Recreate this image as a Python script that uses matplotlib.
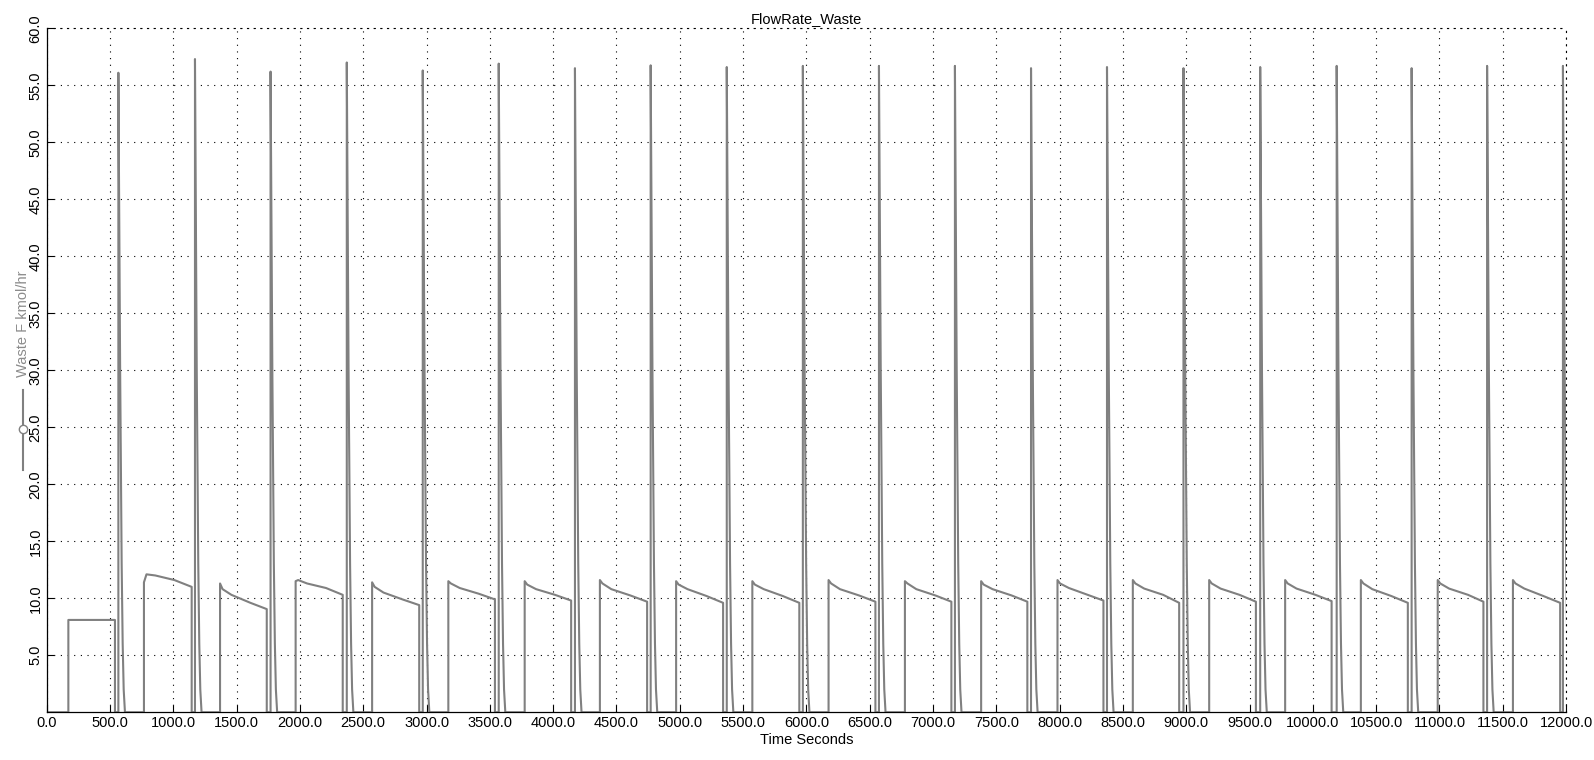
import matplotlib
matplotlib.use("Agg")
import matplotlib.pyplot as plt
from matplotlib.lines import Line2D

plt.rcParams["font.family"] = ["Liberation Sans", "DejaVu Sans"]

# initial feed block
init_t = [171, 539]
init_level = 8.1

# spikes at the start of each waste step
spike_t = [566, 1171, 1768, 2370, 2970, 3570, 4172, 4770, 5371, 5972,
           6573, 7173, 7774, 8374, 8978, 9584, 10188, 10780, 11376, 11975]
spike_peak = [56.1, 57.3, 56.2, 57.0, 56.3, 56.9, 56.5, 56.75, 56.6, 56.7,
              56.7, 56.7, 56.5, 56.6, 56.5, 56.6, 56.7, 56.5, 56.7, 56.7]
tail_dt = [6, 14, 20, 26, 34, 42, 52]
tail_v = [45.0, 30.0, 22.0, 13.0, 6.0, 2.0, 0.0]

# plateau between spikes
plat_rise = [768, 1369, 1966, 2570, 3172, 3775, 4369, 4971, 5573, 6175,
             6778, 7380, 7983, 8578, 9181, 9781, 10379, 10986, 11580]
plat_drop = [1145, 1738, 2338, 2942, 3540, 4142, 4742, 5342, 5944, 6545,
             7145, 7745, 8346, 8944, 9550, 10148, 10750, 11347, 11953]
plat_v0 = [11.4, 11.3, 11.5, 11.4, 11.5, 11.5, 11.6, 11.5, 11.5, 11.6,
           11.5, 11.5, 11.6, 11.6, 11.6, 11.6, 11.6, 11.6, 11.6]
plat_v1 = [12.1, 10.8, 11.6, 11.0, 11.3, 11.2, 11.3, 11.2, 11.2, 11.3,
           11.3, 11.2, 11.3, 11.3, 11.3, 11.3, 11.3, 11.3, 11.3]
plat_v2 = [12.0, 10.3, 11.3, 10.5, 10.9, 10.8, 10.8, 10.8, 10.8, 10.8,
           10.8, 10.8, 10.9, 10.85, 10.85, 10.85, 10.8, 10.85, 10.85]
plat_v3 = [11.6, 9.6, 10.9, 9.9, 10.4, 10.3, 10.25, 10.2, 10.2, 10.25,
           10.25, 10.25, 10.3, 10.3, 10.3, 10.3, 10.2, 10.3, 10.2]
plat_end = [11.0, 9.05, 10.3, 9.4, 9.9, 9.8, 9.7, 9.6, 9.6, 9.7,
            9.7, 9.7, 9.8, 9.6, 9.7, 9.75, 9.6, 9.7, 9.6]

x_ticks = list(range(0, 12001, 500))
y_ticks = list(range(5, 61, 5))

t = [0, init_t[0], init_t[0], init_t[1], init_t[1]]
y = [0, 0, init_level, init_level, 0]
for i, ts in enumerate(spike_t):
    t += [ts, ts] + [ts + d for d in tail_dt]
    y += [0, spike_peak[i]] + tail_v
    if i < len(plat_rise):
        r, dr = plat_rise[i], plat_drop[i]
        t += [r, r, r + 20, r + 90, r + 240, dr, dr]
        y += [0, plat_v0[i], plat_v1[i], plat_v2[i], plat_v3[i], plat_end[i], 0]

fig = plt.figure(figsize=(15.94, 7.6), dpi=100, facecolor="white")
ax = fig.add_axes([0.0293, 0.0628, 0.9532, 0.9])

ax.plot(t, y, color="#808080", lw=1.5)

ax.set_xlim(0, 12000)
ax.set_ylim(0, 60)
ax.set_xticks(x_ticks)
ax.set_xticklabels([f"{v:.1f}" for v in x_ticks])
ax.set_yticks(y_ticks)
ax.set_yticklabels([f"{v:.1f}" for v in y_ticks], rotation=90, va="center")
ax.tick_params(direction="in", length=5, width=0.8, labelsize=10.5, pad=3)

dots = (0, (1, 5))
ax.grid(True, color="black", linestyle=dots, linewidth=0.8)
for side in ["left", "bottom"]:
    ax.spines[side].set_linewidth(0.9)
for side in ["top", "right"]:
    ax.spines[side].set_linestyle(dots)
    ax.spines[side].set_linewidth(0.8)

ax.set_title("FlowRate_Waste", fontsize=10.5, pad=4)
ax.set_xlabel("Time Seconds", fontsize=10.5, labelpad=2)

# y label with its series marker underneath
fig.text(23 / 1594, 1 - 324 / 760, "Waste F kmol/hr", rotation=90,
         color="#8c8c8c", fontsize=10.5, ha="center", va="center")
fig.add_artist(Line2D([23 / 1594, 23 / 1594], [1 - 390 / 760, 1 - 470 / 760],
                      color="#808080", lw=1.5))
fig.add_artist(Line2D([23 / 1594], [1 - 429 / 760], marker="o", ms=6,
                      mfc="white", mec="#808080", mew=1))

fig.savefig("out.png", dpi=100)
